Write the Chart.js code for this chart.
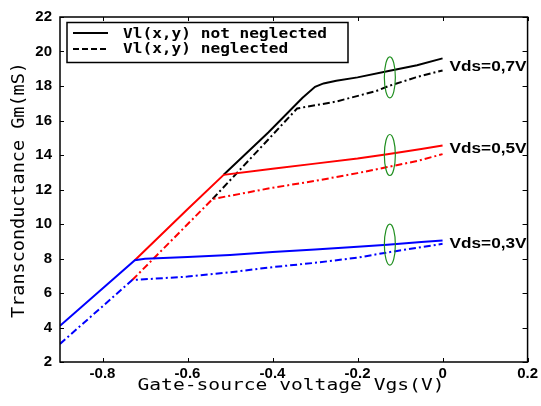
<!DOCTYPE html>
<html>
<head>
<meta charset="utf-8">
<script src="https://cdn.jsdelivr.net/npm/chart.js@4"></script>
<style>
  body { margin: 0; background: #fff; }
</style>
</head>
<body>
<canvas id="gm" width="541" height="406"></canvas>
<script>
// tick labels
const xTicks = [-0.8, -0.6, -0.4, -0.2, 0, 0.2];
const yTicks = [2, 4, 6, 8, 10, 12, 14, 16, 18, 20, 22];

// Vds = 0.3 V
const blueSolidX = [-0.9, -0.724, -0.7, -0.6, -0.5, -0.4, -0.3, -0.2, -0.13, -0.05, 0];
const blueSolidY = [4.1, 7.9, 7.98, 8.08, 8.2, 8.37, 8.52, 8.68, 8.8, 8.95, 9.05];
const blueDashX = [-0.9, -0.73, -0.6, -0.5, -0.4, -0.3, -0.2, -0.13, 0];
const blueDashY = [3.05, 6.75, 6.95, 7.2, 7.5, 7.75, 8.05, 8.35, 8.85];

// Vds = 0.5 V
const redSolidX = [-0.724, -0.6, -0.515, -0.4, -0.3, -0.2, -0.13, -0.05, 0];
const redSolidY = [7.9, 10.85, 12.85, 13.2, 13.5, 13.8, 14.05, 14.35, 14.55];
const redDashX = [-0.73, -0.541, -0.4, -0.3, -0.2, -0.13, -0.06, 0];
const redDashY = [6.75, 11.45, 12.1, 12.5, 12.95, 13.3, 13.65, 14.05];

// Vds = 0.7 V
const blackSolidX = [-0.515, -0.41, -0.33, -0.3, -0.28, -0.25, -0.2, -0.13, -0.06, 0];
const blackSolidY = [12.85, 15.3, 17.3, 17.95, 18.15, 18.3, 18.5, 18.85, 19.2, 19.6];
const blackDashX = [-0.541, -0.41, -0.342, -0.25, -0.157, -0.127, -0.063, 0];
const blackDashY = [11.45, 14.9, 16.7, 17.1, 17.7, 18.0, 18.5, 18.9];

// annotations
const vdsLabels = ["Vds=0,7V", "Vds=0,5V", "Vds=0,3V"];
const vdsLabelGm = [19.1, 14.35, 8.85];
const markVgs = -0.124;
const markGm = [18.5, 14.0, 8.8];
const legendLabels = ["Vl(x,y) not neglected", "Vl(x,y) neglected"];

const dashDot = [7, 3, 2, 3];

function pts(xs, ys) {
  return xs.map((x, i) => ({ x: x, y: ys[i] }));
}

function line(xs, ys, color, dashed) {
  return {
    data: pts(xs, ys),
    borderColor: color,
    borderWidth: 2,
    borderDash: dashed ? dashDot : [],
    pointRadius: 0,
    tension: 0,
    fill: false
  };
}

// draws text squeezed/stretched to a given width
function fitText(ctx, text, x, y, font, width, align, rot) {
  ctx.save();
  ctx.font = font;
  const w = ctx.measureText(text).width;
  const sx = width ? width / w : 1;
  ctx.translate(x, y);
  if (rot) ctx.rotate(rot);
  ctx.scale(sx, 1);
  ctx.textAlign = align;
  ctx.textBaseline = "middle";
  ctx.fillStyle = "#000";
  ctx.fillText(text, 0, 0);
  ctx.restore();
  return sx;
}

const framePlugin = {
  id: "frame",
  afterDatasetsDraw(chart) {
    const { ctx, chartArea: a, scales: { x, y } } = chart;

    // green ellipses
    ctx.save();
    ctx.strokeStyle = "#1f8f1f";
    ctx.lineWidth = 1.2;
    markGm.forEach(v => {
      ctx.beginPath();
      ctx.ellipse(x.getPixelForValue(markVgs), y.getPixelForValue(v), 5.5, 20.5, 0, 0, Math.PI * 2);
      ctx.stroke();
    });
    ctx.restore();

    // border + inward ticks
    ctx.save();
    ctx.strokeStyle = "#000";
    ctx.lineWidth = 1.5;
    ctx.strokeRect(a.left, a.top, a.width, a.height);
    ctx.lineWidth = 1;
    ctx.beginPath();
    xTicks.forEach(v => {
      const px = Math.round(x.getPixelForValue(v)) + 0.5;
      ctx.moveTo(px, a.bottom); ctx.lineTo(px, a.bottom - 4);
      ctx.moveTo(px, a.top); ctx.lineTo(px, a.top + 4);
    });
    yTicks.forEach(v => {
      const py = Math.round(y.getPixelForValue(v)) + 0.5;
      ctx.moveTo(a.left, py); ctx.lineTo(a.left + 4, py);
      ctx.moveTo(a.right, py); ctx.lineTo(a.right - 5, py);
    });
    ctx.stroke();
    ctx.restore();

    // Vds labels
    vdsLabels.forEach((t, i) => {
      fitText(ctx, t, x.getPixelForValue(0) + 7, y.getPixelForValue(vdsLabelGm[i]),
        "bold 15px 'Liberation Sans'", 77, "left");
    });

    // legend
    ctx.save();
    ctx.fillStyle = "#fff";
    ctx.fillRect(67, 22.5, 281, 40);
    ctx.strokeStyle = "#000";
    ctx.lineWidth = 1.5;
    ctx.strokeRect(67, 22.5, 281, 40);
    ctx.lineWidth = 2;
    ctx.beginPath();
    ctx.moveTo(73, 33); ctx.lineTo(108, 33);
    ctx.stroke();
    ctx.setLineDash([6, 3]);
    ctx.beginPath();
    ctx.moveTo(73, 49); ctx.lineTo(108, 49);
    ctx.stroke();
    ctx.restore();
    const sx = fitText(ctx, legendLabels[0], 123, 34, "bold 14px 'DejaVu Sans Mono'", 204, "left");
    ctx.save();
    ctx.font = "bold 14px 'DejaVu Sans Mono'";
    const w2 = ctx.measureText(legendLabels[1]).width * sx;
    ctx.restore();
    fitText(ctx, legendLabels[1], 123, 49, "bold 14px 'DejaVu Sans Mono'", w2, "left");

    // axis titles
    fitText(ctx, "Gate-source voltage Vgs(V)", 291, 386, "15px 'DejaVu Sans Mono'", 307, "center");
    fitText(ctx, "Transconductance Gm(mS)", 19, 190, "18px 'DejaVu Sans Mono'", 256, "center", -Math.PI / 2);
  }
};

const fmt = v => {
  const r = Math.round(v * 10) / 10;
  return r === 0 ? "0" : String(r);
};

new Chart(document.getElementById("gm"), {
  type: "line",
  data: {
    datasets: [
      line(blueSolidX, blueSolidY, "#0000ff", false),
      line(blueDashX, blueDashY, "#0000ff", true),
      line(redSolidX, redSolidY, "#ff0000", false),
      line(redDashX, redDashY, "#ff0000", true),
      line(blackSolidX, blackSolidY, "#000000", false),
      line(blackDashX, blackDashY, "#000000", true)
    ]
  },
  options: {
    responsive: false,
    animation: false,
    layout: { padding: { left: 0, right: 12, top: 16, bottom: 0 } },
    plugins: { legend: { display: false }, tooltip: { enabled: false } },
    scales: {
      x: {
        type: "linear",
        min: -0.9,
        max: 0.2,
        afterBuildTicks: s => { s.ticks = xTicks.map(v => ({ value: v })); },
        afterFit: s => { s.height = 44; },
        grid: { display: false, drawTicks: false },
        border: { display: false },
        ticks: {
          padding: 3,
          color: "#000",
          font: { family: "'Liberation Sans'", size: 15, weight: "bold" },
          callback: fmt,
          maxRotation: 0,
          autoSkip: false
        }
      },
      y: {
        type: "linear",
        min: 2,
        max: 22,
        afterBuildTicks: s => { s.ticks = yTicks.map(v => ({ value: v })); },
        afterFit: s => { s.width = 60; },
        grid: { display: false, drawTicks: false },
        border: { display: false },
        ticks: {
          padding: 8,
          color: "#000",
          font: { family: "'Liberation Sans'", size: 15, weight: "bold" },
          callback: fmt,
          autoSkip: false
        }
      }
    }
  },
  plugins: [framePlugin]
});
</script>
</body>
</html>
